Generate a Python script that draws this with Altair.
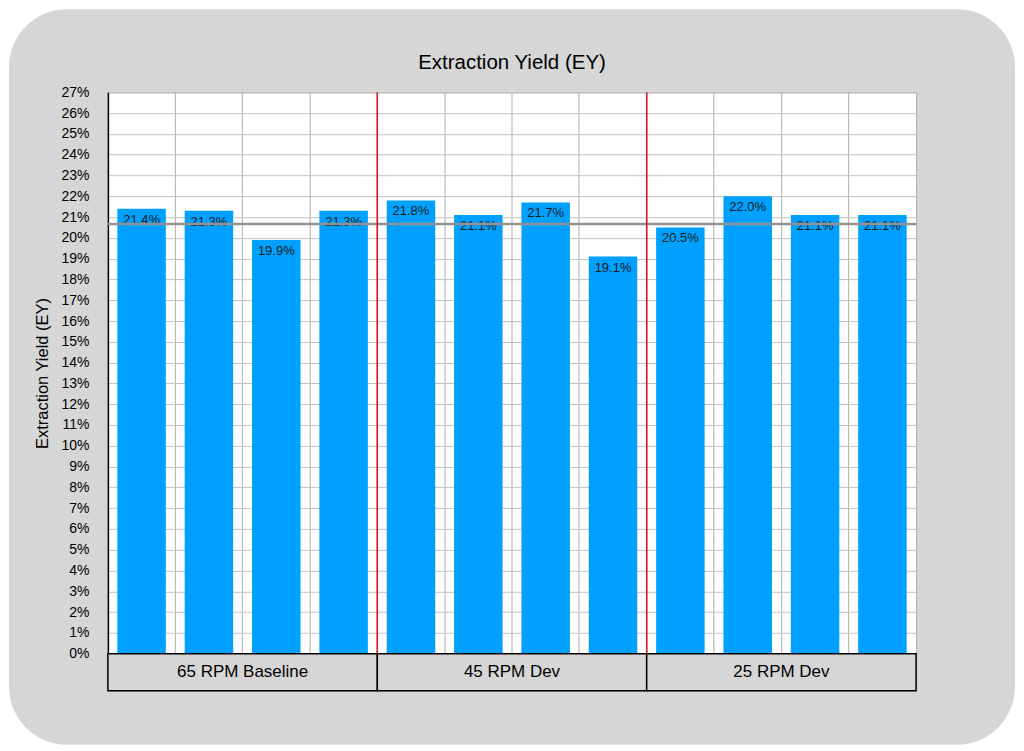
import altair as alt
import pandas as pd

# ---- data ----
bar_ids = [f"b{i}" for i in range(1, 13)]
bar_groups = ["65 RPM Baseline"] * 4 + ["45 RPM Dev"] * 4 + ["25 RPM Dev"] * 4
ey_values = [21.4, 21.3, 19.9, 21.3, 21.8, 21.1, 21.7, 19.1, 20.5, 22.0, 21.1, 21.1]
group_names = ["65 RPM Baseline", "45 RPM Dev", "25 RPM Dev"]
group_starts = ["b5", "b9"]
reference_ey = [20.66]
y_ticks = list(range(0, 28))

df = pd.DataFrame({
    "id": bar_ids,
    "group": bar_groups,
    "ey": ey_values,
    "label": [f"{v:.1f}%" for v in ey_values],
})

W, H, GH = 809, 562, 37
FONT = "Liberation Sans"

# ---- background rounded panel (drawn first, behind everything) ----
bg = alt.Chart(pd.DataFrame({"k": [0]})).mark_rect(
    fill="#d6d6d6", cornerRadius=58
).encode(
    x=alt.value(-99), x2=alt.value(908), y=alt.value(-82), y2=alt.value(654)
).properties(width=W, height=1)

# ---- main chart ----
xenc = alt.X(
    "id:N",
    scale=alt.Scale(domain=bar_ids, paddingInner=0, paddingOuter=0),
    axis=alt.Axis(title=None, labels=False, ticks=False, domain=False,
                  grid=True, bandPosition=0, gridColor="#adadad", gridWidth=1),
)
yaxis = alt.Axis(values=y_ticks, labelExpr="datum.value + '%'",
                 title="Extraction Yield (EY)", ticks=False, labelOverlap=False,
                 labelFontSize=14, labelColor="black", labelPadding=19,
                 titleFontSize=16.5, titleFontWeight="normal", titleColor="black",
                 titlePadding=10, domainColor="black", domainWidth=1.5,
                 gridColor="#c2c2c2", gridWidth=1)
yenc = alt.Y("ey:Q", scale=alt.Scale(domain=[0, 27], nice=False), axis=yaxis)

base = alt.Chart(df)
bars = base.mark_bar(color="#00a1fe", width=alt.RelativeBandSize(0.72)).encode(x=xenc, y=yenc)
labels = base.mark_text(baseline="middle", dy=11, fontSize=13, color="#1a1a1a", font=FONT).encode(
    x=alt.X("id:N"), y=alt.Y("ey:Q", axis=yaxis), text="label:N"
)
avg = alt.Chart(pd.DataFrame({"v": reference_ey})).mark_rule(
    color="#929292", strokeWidth=2.5
).encode(y=alt.Y("v:Q", axis=yaxis))
red = alt.Chart(pd.DataFrame({"id": group_starts})).mark_rule(
    color="#d4141c", strokeWidth=1.5
).encode(x=alt.X("id:N", bandPosition=0))

main = alt.layer(bars, labels, avg, red).properties(
    width=W, height=H,
    title=alt.Title("Extraction Yield (EY)", fontSize=20.5, fontWeight="normal",
                    color="black", baseline="bottom", offset=-8, font=FONT),
)

# ---- group label boxes ----
gdf = pd.DataFrame({"group": group_names})
gbase = alt.Chart(gdf)
gx = alt.X("group:N", scale=alt.Scale(domain=group_names, paddingInner=0, paddingOuter=0), axis=None)
gboxes = gbase.mark_rect(fill="#d6d6d6", stroke="black", strokeWidth=1.5).encode(x=gx)
gtext = gbase.mark_text(fontSize=17, color="black", font=FONT).encode(x=gx, text="group:N")
gchart = alt.layer(gboxes, gtext).properties(width=W, height=GH)

chart = alt.vconcat(bg, main, gchart, spacing=0, bounds="flush").properties(
    padding=0, background="white"
).configure(font=FONT).configure_view(
    fill="white", stroke="#adadad"
).configure_axisY(labelOverlap=False)

chart.save("out.html", embed_options={"renderer": "svg", "actions": False})
